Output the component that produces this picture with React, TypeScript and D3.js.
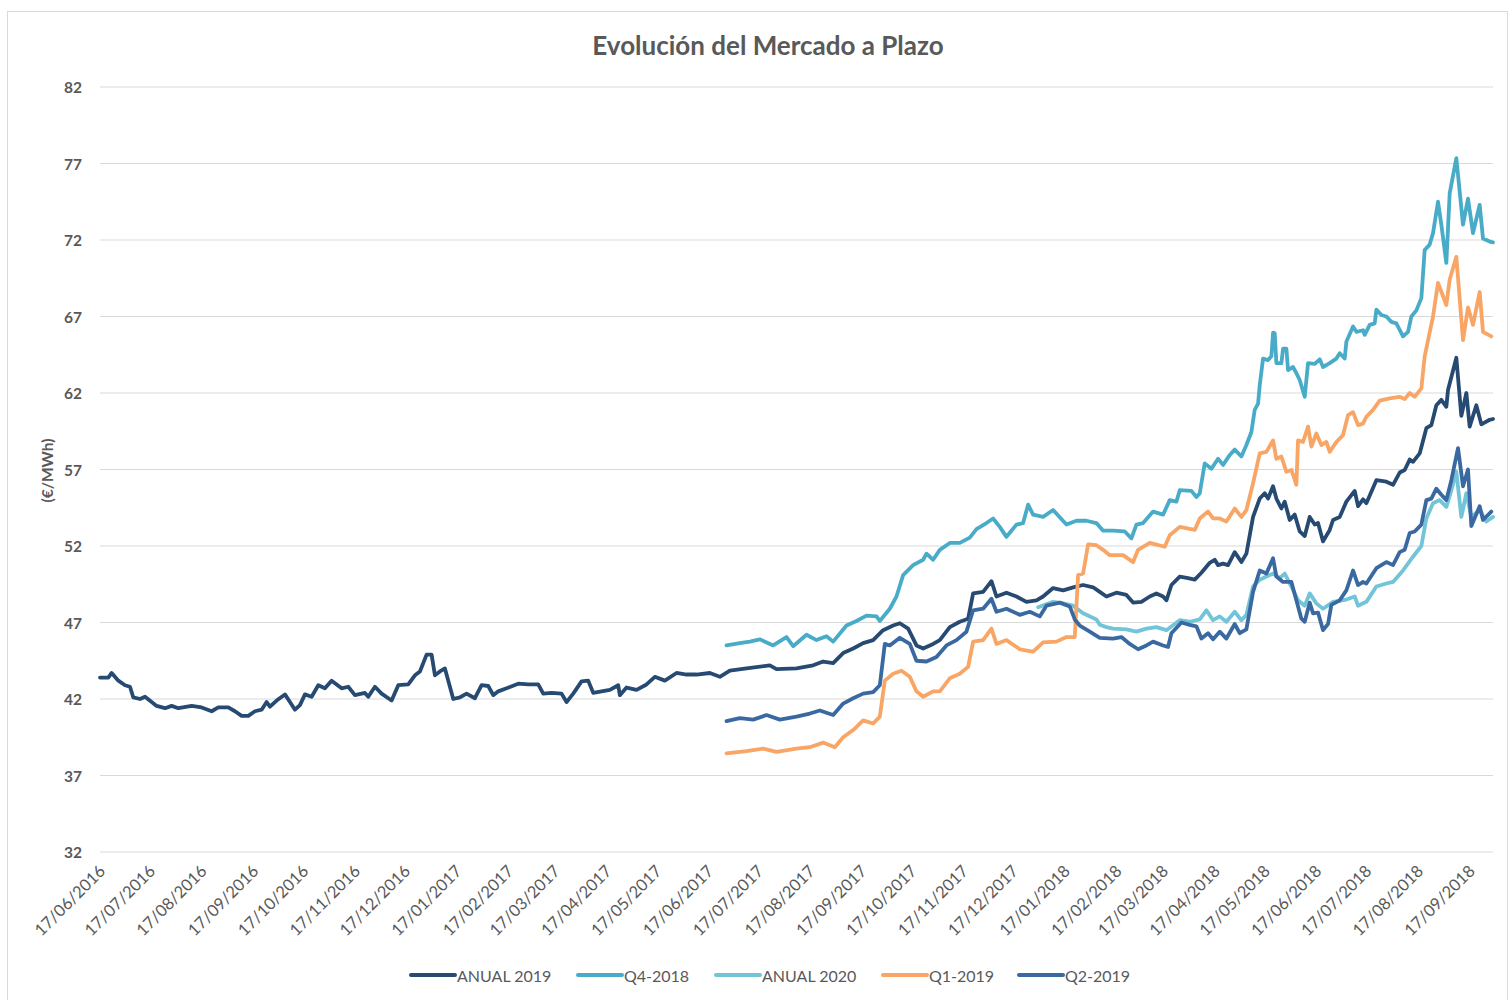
import React from "react";
import * as d3 from "d3";

// ---------- DATA ----------
const TITLE = "Evolución del Mercado a Plazo";
const Y_LABEL = "(€/MWh)";
const Y_TICKS = [32, 37, 42, 47, 52, 57, 62, 67, 72, 77, 82];
const START_DATE = new Date(2016, 5, 17);
const END_DATE = new Date(2018, 9, 1);
// monthly tick dates: 17/06/2016 ... 17/09/2018
const X_TICK_MONTHS = d3.range(28);

const SERIES_NAMES = ["ANUAL 2019", "Q4-2018", "ANUAL 2020", "Q1-2019", "Q2-2019"];
const SERIES_COLORS = ["#264a72", "#48acc8", "#72c4d9", "#f8a565", "#3a69a2"];

// [days since 17/06/2016, €/MWh]
const anual2019: [number, number][] = [
  [0, 43.4], [5, 43.4], [7, 43.7], [11, 43.2], [15, 42.9], [18, 42.8], [20, 42.1], [24, 42.0], [27, 42.15],
  [31, 41.8], [34, 41.55], [39, 41.4], [43, 41.55], [47, 41.4], [55, 41.55], [61, 41.45], [67, 41.2],
  [71, 41.45], [77, 41.45], [81, 41.2], [85, 40.9], [89, 40.9], [93, 41.2], [97, 41.3], [100, 41.8],
  [102, 41.5], [106, 41.9], [111, 42.3], [114, 41.8], [117, 41.3], [120, 41.6], [123, 42.3], [127, 42.15],
  [131, 42.9], [135, 42.7], [139, 43.2], [145, 42.7], [149, 42.8], [153, 42.25], [159, 42.4], [161, 42.15],
  [165, 42.8], [169, 42.35], [175, 41.9], [179, 42.9], [185, 42.95], [189, 43.55], [192, 43.8], [196, 44.9],
  [199, 44.9], [201, 43.55], [204, 43.8], [207, 44.0], [210, 42.8], [212, 42.0], [216, 42.1], [220, 42.35],
  [225, 42.05], [229, 42.9], [233, 42.85], [236, 42.25], [239, 42.5], [244, 42.7], [251, 43.0], [257, 42.95],
  [263, 42.95], [266, 42.35], [271, 42.4], [277, 42.35], [280, 41.8], [284, 42.35], [289, 43.15], [293, 43.2],
  [296, 42.4], [301, 42.5], [306, 42.6], [311, 42.9], [312, 42.25], [316, 42.75], [322, 42.6], [328, 42.95],
  [333, 43.45], [339, 43.2], [346, 43.7], [352, 43.6], [358, 43.6], [366, 43.7], [372, 43.45], [378, 43.85],
  [388, 44.0], [402, 44.2], [406, 43.95], [418, 44.0], [428, 44.2], [434, 44.45], [440, 44.35], [446, 45.0],
  [452, 45.3], [458, 45.65], [464, 45.85], [470, 46.5], [476, 46.8], [480, 46.95], [485, 46.6], [490, 45.5],
  [494, 45.3], [500, 45.6], [504, 45.85], [510, 46.7], [516, 47.05], [521, 47.25], [524, 48.9], [530, 49.0],
  [535, 49.7], [538, 48.7], [544, 48.95], [550, 48.7], [556, 48.35], [562, 48.45], [566, 48.7], [572, 49.25],
  [578, 49.1], [584, 49.3], [590, 49.45], [596, 49.3], [600, 49.0], [604, 48.7], [610, 48.95], [616, 48.8],
  [620, 48.3], [625, 48.35], [630, 48.7], [634, 48.9], [638, 48.7], [640, 48.45], [643, 49.45], [648, 50.0],
  [653, 49.9], [657, 49.8], [661, 50.25], [666, 50.9], [669, 51.1], [671, 50.75], [674, 50.85], [677, 50.75],
  [681, 51.6], [685, 50.95], [688, 51.5], [692, 53.9], [696, 55.1], [699, 55.45], [701, 55.1], [704, 55.9],
  [706, 55.1], [709, 54.45], [711, 54.9], [714, 53.7], [717, 54.05], [720, 52.95], [723, 52.65], [726, 53.9],
  [729, 53.4], [731, 53.5], [734, 52.3], [738, 53.05], [740, 53.7], [744, 53.9], [748, 54.9], [753, 55.6],
  [755, 54.6], [758, 55.05], [760, 54.8], [766, 56.3], [772, 56.2], [776, 56.0], [780, 56.8], [783, 56.97],
  [786, 57.65], [788, 57.5], [792, 58.05], [796, 59.7], [799, 59.9], [802, 61.2], [805, 61.55], [808, 61.1],
  [809, 62.2], [814, 64.3], [817, 60.5], [820, 62.0], [822, 59.8], [826, 61.2], [829, 59.95], [834, 60.25],
  [836, 60.3],
];

const q4_2018: [number, number][] = [
  [376, 45.5], [384, 45.65], [390, 45.75], [396, 45.9], [404, 45.5], [412, 46.05], [416, 45.45], [424, 46.2],
  [430, 45.85], [436, 46.1], [440, 45.75], [448, 46.8], [454, 47.1], [460, 47.45], [466, 47.4], [468, 47.1],
  [474, 47.9], [478, 48.7], [482, 50.1], [488, 50.75], [494, 51.1], [496, 51.5], [500, 51.1], [504, 51.75],
  [510, 52.2], [516, 52.2], [522, 52.55], [526, 53.1], [532, 53.5], [536, 53.8], [540, 53.25], [544, 52.6],
  [550, 53.4], [554, 53.5], [557, 54.7], [560, 54.05], [566, 53.9], [572, 54.35], [580, 53.4], [586, 53.65],
  [592, 53.65], [598, 53.5], [602, 53.0], [608, 53.0], [615, 52.95], [619, 52.5], [622, 53.4], [626, 53.5],
  [632, 54.25], [638, 54.05], [642, 55.0], [646, 54.9], [648, 55.65], [655, 55.6], [658, 55.2], [660, 55.45],
  [663, 57.4], [667, 57.05], [671, 57.7], [674, 57.3], [678, 57.95], [681, 58.3], [685, 57.85], [688, 58.6],
  [691, 59.45], [693, 60.9], [695, 61.3], [696, 62.5], [698, 64.25], [701, 64.15], [703, 64.4], [704, 65.95],
  [705, 65.9], [706, 63.95], [709, 63.95], [710, 64.9], [712, 64.9], [713, 63.5], [716, 63.7], [718, 63.3],
  [720, 62.85], [723, 61.75], [725, 63.95], [729, 63.9], [732, 64.2], [734, 63.7], [738, 63.95], [742, 64.25],
  [744, 64.6], [747, 64.25], [748, 65.35], [752, 66.35], [754, 66.0], [758, 66.1], [759, 65.8], [762, 66.45],
  [765, 66.55], [766, 67.45], [769, 67.1], [772, 67.0], [775, 66.65], [778, 66.55], [782, 65.7], [785, 66.0],
  [787, 67.0], [790, 67.4], [793, 68.2], [795, 71.35], [798, 71.7], [800, 72.45], [803, 74.5], [805, 73.0],
  [808, 70.5], [810, 75.05], [814, 77.35], [818, 73.0], [821, 74.7], [824, 72.45], [828, 74.3], [830, 72.1],
  [834, 71.9], [836, 71.85],
];

const anual2020: [number, number][] = [
  [563, 48.0], [572, 48.35], [578, 48.25], [584, 48.1], [590, 47.6], [598, 47.2], [600, 46.85], [604, 46.7],
  [608, 46.6], [616, 46.55], [622, 46.4], [628, 46.6], [634, 46.7], [640, 46.5], [648, 47.15], [654, 47.05],
  [660, 47.2], [664, 47.8], [668, 47.15], [672, 47.4], [676, 47.05], [681, 47.7], [685, 47.15], [688, 47.5],
  [692, 49.35], [696, 49.8], [700, 50.0], [704, 50.2], [708, 49.9], [711, 50.2], [715, 49.35], [719, 48.45],
  [723, 48.1], [726, 48.9], [730, 48.25], [734, 47.9], [740, 48.35], [748, 48.5], [753, 48.7], [755, 48.1],
  [760, 48.35], [766, 49.35], [772, 49.55], [776, 49.65], [782, 50.4], [788, 51.3], [793, 52.0], [796, 53.8],
  [800, 54.8], [804, 55.0], [808, 54.55], [811, 55.65], [814, 56.85], [817, 53.9], [820, 55.45], [823, 53.9],
  [828, 54.35], [832, 53.6], [836, 53.9],
];

const q1_2019: [number, number][] = [
  [376, 38.45], [388, 38.6], [398, 38.75], [406, 38.55], [418, 38.75], [426, 38.85], [434, 39.15], [441, 38.85],
  [446, 39.5], [452, 39.97], [458, 40.6], [464, 40.4], [468, 40.85], [471, 43.2], [476, 43.65], [481, 43.85],
  [486, 43.45], [490, 42.5], [494, 42.15], [500, 42.5], [504, 42.5], [510, 43.35], [516, 43.65], [521, 44.1],
  [524, 45.75], [530, 45.85], [535, 46.6], [538, 45.6], [544, 45.85], [552, 45.25], [560, 45.1], [566, 45.7],
  [574, 45.75], [580, 46.05], [585, 46.05], [587, 50.1], [590, 50.2], [593, 52.1], [598, 52.05], [602, 51.75],
  [606, 51.4], [614, 51.4], [620, 50.95], [623, 51.75], [630, 52.2], [639, 51.95], [642, 52.7], [648, 53.25],
  [657, 53.05], [660, 53.8], [665, 54.25], [668, 53.8], [672, 53.8], [676, 53.6], [681, 54.45], [685, 53.9],
  [688, 54.35], [692, 56.1], [696, 58.05], [700, 58.15], [704, 58.9], [706, 57.7], [709, 57.85], [712, 56.85],
  [715, 56.97], [718, 56.0], [719, 58.9], [722, 58.8], [725, 59.8], [727, 58.5], [730, 59.35], [733, 58.6],
  [736, 58.8], [738, 58.15], [742, 58.8], [746, 59.25], [749, 60.55], [752, 60.75], [755, 59.9], [758, 60.0],
  [760, 60.45], [764, 60.9], [768, 61.5], [774, 61.65], [780, 61.75], [783, 61.6], [786, 62.0], [789, 61.75],
  [793, 62.3], [795, 64.4], [800, 67.0], [803, 69.2], [808, 67.75], [810, 69.4], [814, 70.9], [818, 65.45],
  [821, 67.6], [824, 66.45], [828, 68.6], [830, 66.0], [835, 65.7],
];

const q2_2019: [number, number][] = [
  [376, 40.55], [384, 40.75], [392, 40.65], [400, 40.95], [408, 40.65], [418, 40.85], [426, 41.05], [432, 41.25],
  [440, 40.95], [446, 41.7], [452, 42.05], [458, 42.35], [464, 42.45], [468, 42.9], [471, 45.6], [474, 45.5],
  [480, 46.0], [486, 45.6], [490, 44.5], [496, 44.45], [502, 44.75], [508, 45.5], [514, 45.85], [520, 46.4],
  [524, 47.8], [530, 47.9], [535, 48.55], [538, 47.7], [544, 47.9], [552, 47.5], [558, 47.7], [564, 47.4],
  [568, 48.1], [576, 48.3], [582, 48.05], [585, 47.2], [588, 46.8], [594, 46.4], [600, 46.0], [608, 45.95],
  [613, 46.05], [618, 45.6], [623, 45.25], [628, 45.5], [632, 45.75], [638, 45.5], [641, 45.4], [643, 46.3],
  [649, 47.0], [654, 46.85], [658, 46.75], [661, 45.95], [665, 46.3], [668, 45.9], [672, 46.4], [676, 45.95],
  [681, 46.9], [684, 46.3], [688, 46.55], [692, 49.0], [696, 50.4], [700, 50.2], [704, 51.2], [706, 50.0],
  [710, 49.65], [715, 49.65], [718, 48.45], [721, 47.25], [723, 47.05], [726, 48.3], [728, 47.6], [731, 47.65],
  [734, 46.5], [737, 46.9], [739, 48.15], [744, 48.45], [748, 49.1], [752, 50.4], [755, 49.45], [758, 49.65],
  [760, 49.55], [766, 50.55], [772, 50.95], [776, 50.75], [780, 51.6], [783, 51.75], [786, 52.85], [789, 52.95],
  [793, 53.4], [796, 55.0], [799, 55.1], [802, 55.75], [805, 55.35], [808, 55.0], [811, 56.3], [815, 58.4],
  [818, 55.9], [821, 57.0], [823, 53.3], [828, 54.6], [830, 53.7], [835, 54.25],
];

const SERIES_DATA = [anual2019, q4_2018, anual2020, q1_2019, q2_2019];

// ---------- LAYOUT ----------
const W = 1512;
const H = 1000;
const PLOT = { left: 100, right: 1493, top: 87, bottom: 852 };
const TEXT_COLOR = "#595959";
const FONT = "Lato, 'Open Sans', sans-serif";
const LEGEND_X = [411, 578, 716, 883, 1019];
const LEGEND_Y = 975;

export default function App() {
  const x = d3.scaleTime().domain([START_DATE, END_DATE]).range([PLOT.left, PLOT.right]);
  const y = d3.scaleLinear().domain([32, 82]).range([PLOT.bottom, PLOT.top]);
  const toDate = (d: number) => d3.timeDay.offset(START_DATE, d);
  const line = d3
    .line<[number, number]>()
    .x((d) => x(toDate(d[0])))
    .y((d) => y(d[1]));
  const fmt = d3.timeFormat("%d/%m/%Y");
  const xTicks = X_TICK_MONTHS.map((i) => new Date(2016, 5 + i, 17));

  return (
    <svg
      width={W}
      height={H}
      style={{ position: "absolute", left: 0, top: 0, background: "#fff", display: "block" }}
      fontFamily={FONT}
    >
      <rect x={7.5} y={11.5} width={1500} height={995} fill="#fff" stroke="#d9d9d9" strokeWidth={1} />
      <text x={768} y={45} textAnchor="middle" dominantBaseline="central" fontSize={26} fontWeight={700} fill={TEXT_COLOR}>
        {TITLE}
      </text>

      {Y_TICKS.map((t) => (
        <g key={t}>
          <line x1={PLOT.left} x2={PLOT.right} y1={y(t)} y2={y(t)} stroke="#d9d9d9" strokeWidth={1.2} />
          <text x={82} y={y(t)} textAnchor="end" dominantBaseline="central" fontSize={15.5} fontWeight={700} fill={TEXT_COLOR}>
            {t}
          </text>
        </g>
      ))}

      <text
        transform={`translate(47,${(PLOT.top + PLOT.bottom) / 2 + 1}) rotate(-90)`}
        textAnchor="middle"
        dominantBaseline="central"
        fontSize={15.5}
        fontWeight={700}
        fill={TEXT_COLOR}
      >
        {Y_LABEL}
      </text>

      {xTicks.map((d, i) => {
        const tx = x(d) + 2;
        const ty = PLOT.bottom + 16;
        return (
          <text
            key={i}
            transform={`translate(${tx},${ty}) rotate(-45)`}
            textAnchor="end"
            dominantBaseline="central"
            fontSize={16.5}
            fill={TEXT_COLOR}
          >
            {fmt(d)}
          </text>
        );
      })}

      {SERIES_DATA.map((data, i) => (
        <path
          key={SERIES_NAMES[i]}
          d={line(data) || ""}
          fill="none"
          stroke={SERIES_COLORS[i]}
          strokeWidth={3.8}
          strokeLinejoin="round"
          strokeLinecap="round"
        />
      ))}

      {SERIES_NAMES.map((name, i) => (
        <g key={name} transform={`translate(${LEGEND_X[i]},${LEGEND_Y})`}>
          <line x1={0} x2={44} y1={0} y2={0} stroke={SERIES_COLORS[i]} strokeWidth={4} strokeLinecap="round" />
          <text x={46} y={0} dominantBaseline="central" fontSize={16} fill={TEXT_COLOR}>
            {name}
          </text>
        </g>
      ))}
    </svg>
  );
}
